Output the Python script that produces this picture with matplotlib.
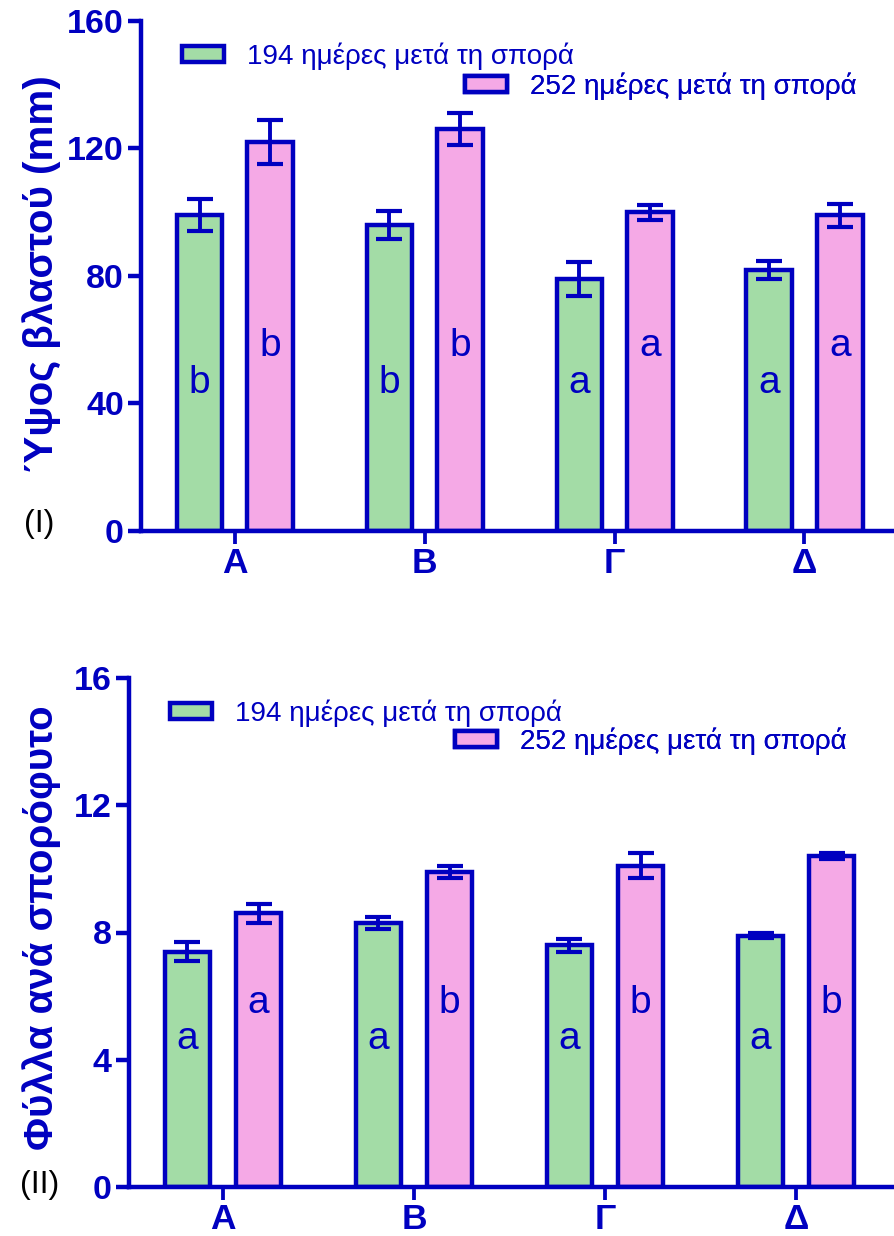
import numpy as np
import matplotlib
matplotlib.use("Agg")
import matplotlib.pyplot as plt

plt.rcParams['font.family'] = ['Liberation Sans', 'DejaVu Sans']

# ---- data ----
categories = ['A', 'B', 'Γ', 'Δ']
series_labels = ['194 ημέρες μετά τη σπορά', '252 ημέρες μετά τη σπορά']

height_194 = [99, 96, 79, 82]
height_194_err = [5.0, 4.5, 5.3, 2.8]
height_252 = [122, 126, 100, 99]
height_252_err = [7.0, 5.0, 2.3, 3.7]
height_letters_194 = ['b', 'b', 'a', 'a']
height_letters_252 = ['b', 'b', 'a', 'a']

leaves_194 = [7.4, 8.3, 7.6, 7.9]
leaves_194_err = [0.3, 0.2, 0.2, 0.08]
leaves_252 = [8.6, 9.9, 10.1, 10.4]
leaves_252_err = [0.3, 0.2, 0.4, 0.1]
leaves_letters_194 = ['a', 'a', 'a', 'a']
leaves_letters_252 = ['a', 'b', 'b', 'b']

height_ticks = [0, 40, 80, 120, 160]
leaves_ticks = [0, 4, 8, 12, 16]

# ---- style ----
BLUE = '#0000C0'
GREEN = '#A3DCA6'
PINK = '#F5A9E6'
W, H = 895, 1236
LW = 3.2

fig = plt.figure(figsize=(W / 100, H / 100), dpi=100)


def axes_px(left, right, top, bottom):
    return fig.add_axes([left / W, 1 - bottom / H, (right - left) / W, (bottom - top) / H])


def draw_panel(ax, v1, e1, v2, e2, let1, let2, ticks, xlim, ylabel, tag,
               label_y, tag_xy, leg_pos, width):
    x = np.arange(len(categories))
    off = 0.186
    ymax = ticks[-1]
    b1 = ax.bar(x - off, v1, width, color=GREEN, edgecolor=BLUE, linewidth=LW, zorder=2)
    b2 = ax.bar(x + off, v2, width, color=PINK, edgecolor=BLUE, linewidth=LW, zorder=2)
    for xs, v, e in ((x - off, v1, e1), (x + off, v2, e2)):
        ax.errorbar(xs, v, yerr=e, fmt='none', ecolor=BLUE, elinewidth=2.8,
                    capsize=9.5, capthick=3.0, zorder=3)
    for xs, lets, frac in ((x - off, let1, 0.29), (x + off, let2, 0.362)):
        for xi, t in zip(xs, lets):
            ax.text(xi, frac * ymax, t, ha='center', va='center', fontsize=28,
                    color=BLUE, zorder=4)

    ax.set_xlim(*xlim)
    ax.set_ylim(0, ymax)
    ax.set_yticks(ticks)
    ax.set_yticklabels([str(t) for t in ticks])
    ax.set_xticks(x)
    ax.set_xticklabels(categories)
    for s in ('top', 'right'):
        ax.spines[s].set_visible(False)
    for s in ('left', 'bottom'):
        ax.spines[s].set_linewidth(LW)
        ax.spines[s].set_color(BLUE)
    ax.tick_params(axis='y', length=9.4, width=LW, color=BLUE, labelcolor=BLUE,
                   labelsize=24.5, pad=3)
    ax.tick_params(axis='x', length=9.5, width=LW * 0.85, color=BLUE, labelcolor=BLUE,
                   labelsize=25.5, pad=2)
    for lbl in ax.get_xticklabels() + ax.get_yticklabels():
        lbl.set_fontweight('bold')

    fig.text(53 / W, 1 - label_y / H, ylabel, rotation=90, rotation_mode='anchor',
             ha='center', va='baseline', fontsize=29, fontweight='bold', color=BLUE)
    fig.text(tag_xy[0] / W, 1 - tag_xy[1] / H, tag, ha='center', va='center',
             fontsize=23, color='black')

    for handle, lab, (lx, ly) in zip((b1, b2), series_labels, leg_pos):
        leg = ax.legend([handle], [lab], loc='center left',
                        bbox_to_anchor=(lx / W, 1 - ly / H),
                        bbox_transform=fig.transFigure, frameon=False, fontsize=20,
                        handlelength=1.5, handleheight=0.55, handletextpad=0.85,
                        borderpad=0, borderaxespad=0, labelcolor=BLUE)
        ax.add_artist(leg)


ax1 = axes_px(141, 895, 21, 531)
draw_panel(ax1, height_194, height_194_err, height_252, height_252_err,
           height_letters_194, height_letters_252, height_ticks,
           (-0.495, 3.477), 'Ύψος βλαστού (mm)', '(I)',
           274, (39, 524), [(182, 56), (465, 86)], 0.24)

ax2 = axes_px(129, 895, 678, 1187)
draw_panel(ax2, leaves_194, leaves_194_err, leaves_252, leaves_252_err,
           leaves_letters_194, leaves_letters_252, leaves_ticks,
           (-0.492, 3.518), 'Φύλλα ανά σπορόφυτο', '(II)',
           928, (40, 1185), [(170, 713), (455, 741)], 0.235)

fig.savefig('out.png', dpi=100)
